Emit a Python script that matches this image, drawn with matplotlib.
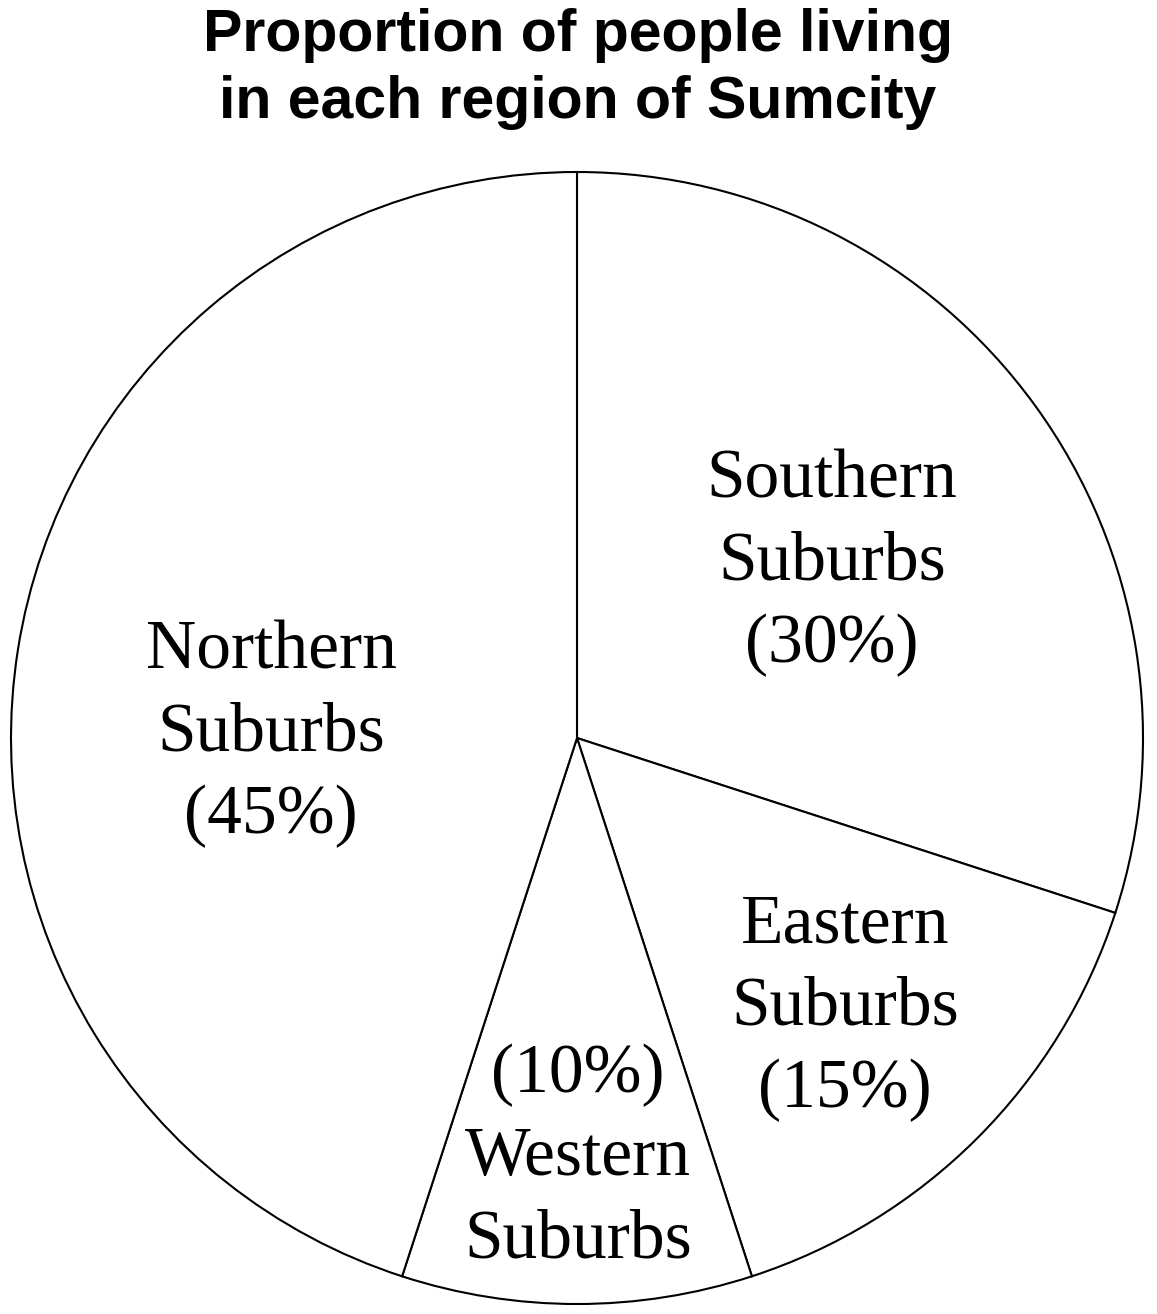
import matplotlib
matplotlib.use("Agg")
import matplotlib.pyplot as plt

W, H = 1157, 1314

regions = ["Southern\nSuburbs", "Eastern\nSuburbs", "Western\nSuburbs", "Northern\nSuburbs"]
shares = [30, 15, 10, 45]
title = "Proportion of people living\nin each region of Sumcity"

fig = plt.figure(figsize=(W / 100, H / 100), dpi=100)
ax = fig.add_axes([0, 0, 1, 1])

ax.pie(shares, startangle=90, counterclock=False,
       center=(577, H - 738), radius=566,
       wedgeprops=dict(facecolor="white", edgecolor="black", linewidth=1.5))
ax.set_xlim(0, W)
ax.set_ylim(0, H)
ax.set_aspect("auto")
ax.axis("off")

# label text: name + share, western one has share on top
labels = []
for name, s in zip(regions, shares):
    if name.startswith("Western"):
        labels.append(f"({s}%)\n{name}")
    else:
        labels.append(f"{name}\n({s}%)")

# last-line baseline positions in pixels (x centre, y from top)
spots = [(832, 662), (845, 1107), (578, 1257), (271, 833)]
for lab, (x, y) in zip(labels, spots):
    ax.text(x, H - y, lab, ha="center", va="baseline", family="Liberation Serif",
            fontsize=50, linespacing=1.39, multialignment="center")

ax.text(578, H - 118, title, ha="center", va="baseline", family="Liberation Sans",
        fontweight="bold", fontsize=42.5, linespacing=1.28)

fig.savefig("out.png", dpi=100)
